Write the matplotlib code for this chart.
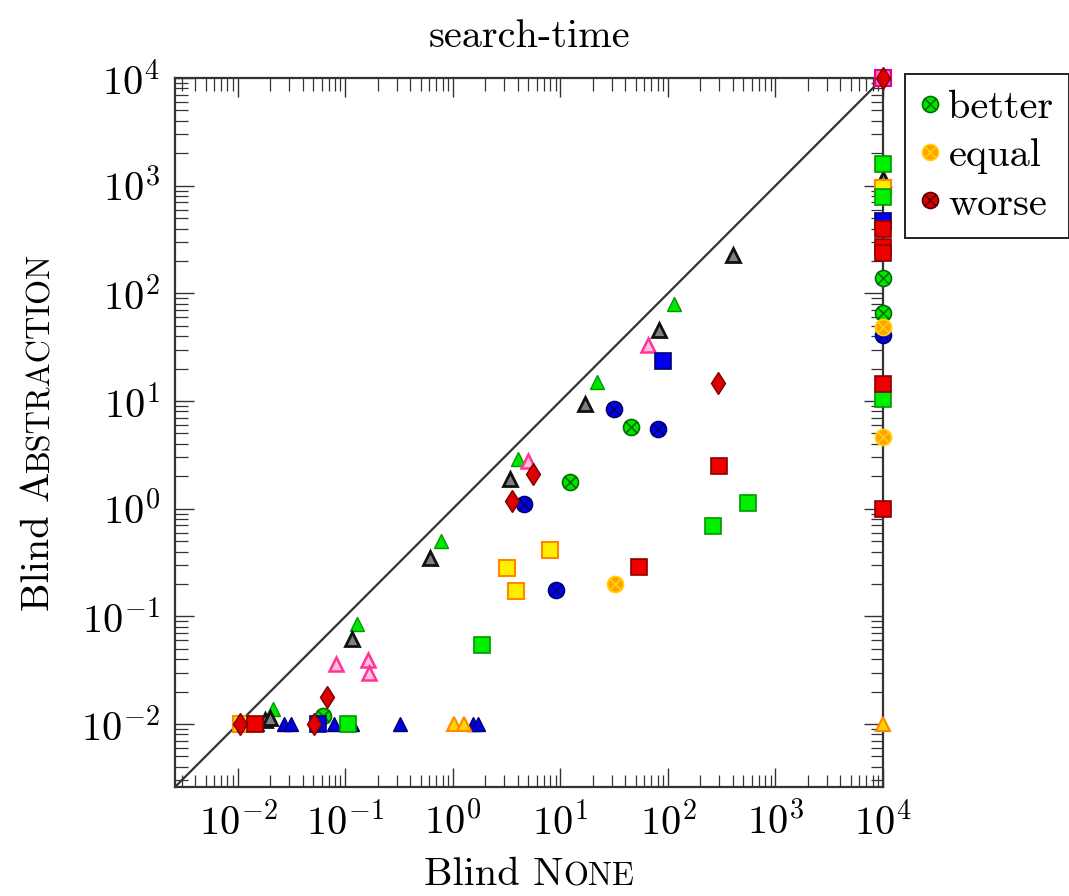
import numpy as np
import matplotlib
matplotlib.use('Agg')
import matplotlib.pyplot as plt
from matplotlib.path import Path
from matplotlib.lines import Line2D
from matplotlib.ticker import LogLocator, NullFormatter

plt.rcParams['font.family'] = ['cmr10', 'DejaVu Serif']
plt.rcParams['mathtext.fontset'] = 'cm'
plt.rcParams['axes.formatter.use_mathtext'] = True

FS = 29

# ---- data (search time in seconds, x = Blind None, y = Blind Abstraction) ----
gray_tri_x = [403, 83, 17, 3.36, 0.61, 0.115, 0.018, 0.02, 1e4]
gray_tri_y = [225, 46, 9.4, 1.88, 0.35, 0.062, 0.011, 0.0113, 1150]

green_tri_x = [114, 22, 4.06, 0.77, 0.127, 0.021]
green_tri_y = [80, 15, 2.88, 0.50, 0.084, 0.0138]

pink_tri_x = [65, 5.04, 0.081, 0.161, 0.164]
pink_tri_y = [33, 2.8, 0.036, 0.0395, 0.030]

blue_tri_x = [0.015, 0.027, 0.031, 0.078, 0.115, 0.32, 1.55, 1.7]
blue_tri_y = [0.01, 0.01, 0.01, 0.01, 0.01, 0.01, 0.01, 0.01]

orange_tri_x = [1.03, 1.28, 1e4]
orange_tri_y = [0.01, 0.01, 0.01]

blue_sq_x = [90, 0.056, 1e4]
blue_sq_y = [23.7, 0.01, 467]

green_sq_x = [555, 263, 1.88, 0.105, 1e4, 1e4, 1e4]
green_sq_y = [1.12, 0.69, 0.054, 0.01, 1585, 782, 10.5]

red_sq_x = [299, 54, 0.0144, 1e4, 1e4, 1e4, 1e4, 1e4]
red_sq_y = [2.5, 0.29, 0.01, 400, 267, 235, 14.4, 1.0]

yellow_sq_x = [8.05, 3.15, 3.9, 0.0107, 1e4]
yellow_sq_y = [0.41, 0.28, 0.173, 0.01, 950]

pink_sq_x = [1e4]
pink_sq_y = [1e4]

red_dia_x = [292, 5.5, 3.57, 0.067, 0.051, 0.0105, 1e4]
red_dia_y = [14.8, 2.09, 1.17, 0.0179, 0.01, 0.01, 1e4]

blue_cx_x = [31.6, 81, 4.6, 9.0, 1e4]
blue_cx_y = [8.4, 5.5, 1.1, 0.177, 41.3]

green_cx_x = [45.5, 12.4, 0.062, 1e4, 1e4]
green_cx_y = [5.7, 1.76, 0.0119, 140, 66]

orange_cx_x = [32.4, 1e4, 1e4]
orange_cx_y = [0.2, 49, 4.6]

legend_labels = ['better', 'equal', 'worse']
decades = [1e-2, 1e-1, 1e0, 1e1, 1e2, 1e3, 1e4]

# circle with a cross inside
cross = Path([(-0.7, -0.7), (0.7, 0.7), (-0.7, 0.7), (0.7, -0.7)],
             [Path.MOVETO, Path.LINETO, Path.MOVETO, Path.LINETO])
cx_marker = Path.make_compound_path(Path.unit_circle(), cross)

lo, hi = 10 ** -2.585, 1e4

fig = plt.figure(figsize=(10.69, 8.96), dpi=100)
ax = fig.add_axes([175 / 1069, 1 - 787 / 896, 708 / 1069, 709 / 896])
ax.set_xscale('log')
ax.set_yscale('log')

ax.plot([lo, hi], [lo, hi], color='#333333', lw=1.6, zorder=1)


def pts(x, y, marker, ms, fc, ec, mew=1.0, z=3):
    ax.plot(x, y, ls='none', marker=marker, ms=ms, mfc=fc, mec=ec, mew=mew,
            clip_on=False, zorder=z)


# circles first, then triangles, squares, diamonds
pts(blue_cx_x, blue_cx_y, cx_marker, 11.5, '#0000ee', '#00006a', 1.2)
pts(green_cx_x, green_cx_y, cx_marker, 11.5, '#00e600', '#006e00', 1.2)
pts(orange_cx_x, orange_cx_y, cx_marker, 11.5, '#ffa000', '#ffd200', 1.3)

pts(blue_tri_x, blue_tri_y, '^', 10.5, '#0000dd', '#00006e', 1.0)
pts(orange_tri_x, orange_tri_y, '^', 10.5, '#ffd400', '#ff8800', 1.5)
pts(green_tri_x, green_tri_y, '^', 10.5, '#00e600', '#009900', 1.0)
pts(pink_tri_x, pink_tri_y, '^', 10, '#ffc0d8', '#ff3399', 1.8)
pts(gray_tri_x, gray_tri_y, '^', 10.5, '#808080', '#111111', 2.0)

pts(pink_sq_x, pink_sq_y, 's', 12, '#ff66c4', '#e6008a', 1.5)
pts(yellow_sq_x, yellow_sq_y, 's', 11.5, '#ffee00', '#ff8800', 1.5)
pts(green_sq_x, green_sq_y, 's', 11.5, '#00ee00', '#009900', 1.2)
pts(blue_sq_x, blue_sq_y, 's', 11.5, '#0000ee', '#00007a', 1.2)
pts(red_sq_x, red_sq_y, 's', 11.5, '#ee0000', '#8b0000', 1.2)

pts(red_dia_x, red_dia_y, 'd', 11.5, '#dd0000', '#7a0000', 1.0)

# ticks
ax.set_xticks(decades)
ax.set_yticks(decades)
for a in (ax.xaxis, ax.yaxis):
    a.set_minor_locator(LogLocator(base=10, subs=np.arange(2, 10), numticks=40))
    a.set_minor_formatter(NullFormatter())
ax.set_xlim(lo, hi)
ax.set_ylim(lo, hi)
ax.tick_params(which='both', direction='in', top=True, right=True,
               labelsize=FS, color='#333333')
ax.tick_params(which='major', length=14, width=1.0, pad=11)
ax.tick_params(which='minor', length=9, width=0.9)
for s in ax.spines.values():
    s.set_linewidth(1.6)
    s.set_color('#333333')

ax.set_title('search-time', fontsize=FS, pad=22)

# legend
handles = [Line2D([], [], ls='none', marker=cx_marker, ms=11.5, mfc=fc, mec=ec, mew=1.2)
           for fc, ec in [('#00e600', '#006e00'), ('#ffa000', '#ffd200'), ('#dd0000', '#550000')]]
leg = ax.legend(handles, legend_labels, loc='upper left', bbox_to_anchor=(1.031, 1.005),
                borderaxespad=0, fontsize=FS, frameon=True, fancybox=False,
                edgecolor='#222222', framealpha=1, handlelength=0.5,
                handletextpad=0.2, labelspacing=0.3, borderpad=0.38)
leg.get_frame().set_linewidth(1.4)

# axis labels with small caps, built from two pieces
renderer = fig.canvas.get_renderer()
W, H = fig.bbox.width, fig.bbox.height
SC = 0.8


def sc_label(big, small, cx, cy, vertical):
    rot = 90 if vertical else 0
    t1 = fig.text(0, 0, big, fontsize=FS, rotation=rot, rotation_mode='anchor',
                  ha='left', va='baseline')
    t2 = fig.text(0, 0, small, fontsize=FS * SC, rotation=rot, rotation_mode='anchor',
                  ha='left', va='baseline')
    b1 = t1.get_window_extent(renderer)
    b2 = t2.get_window_extent(renderer)
    if vertical:
        l1, l2 = b1.height, b2.height
        start = cy - (l1 + l2) / 2
        t1.set_position((cx / W, start / H))
        t2.set_position((cx / W, (start + l1) / H))
    else:
        l1, l2 = b1.width, b2.width
        start = cx - (l1 + l2) / 2
        t1.set_position((start / W, cy / H))
        t2.set_position(((start + l1) / W, cy / H))


# pixel coords from the bottom-left of the figure
sc_label('Blind N', 'ONE', 529, 896 - 885, False)
sc_label('Blind A', 'BSTRACTION', 49, 896 - 432, True)

fig.savefig('out.png', dpi=100)
